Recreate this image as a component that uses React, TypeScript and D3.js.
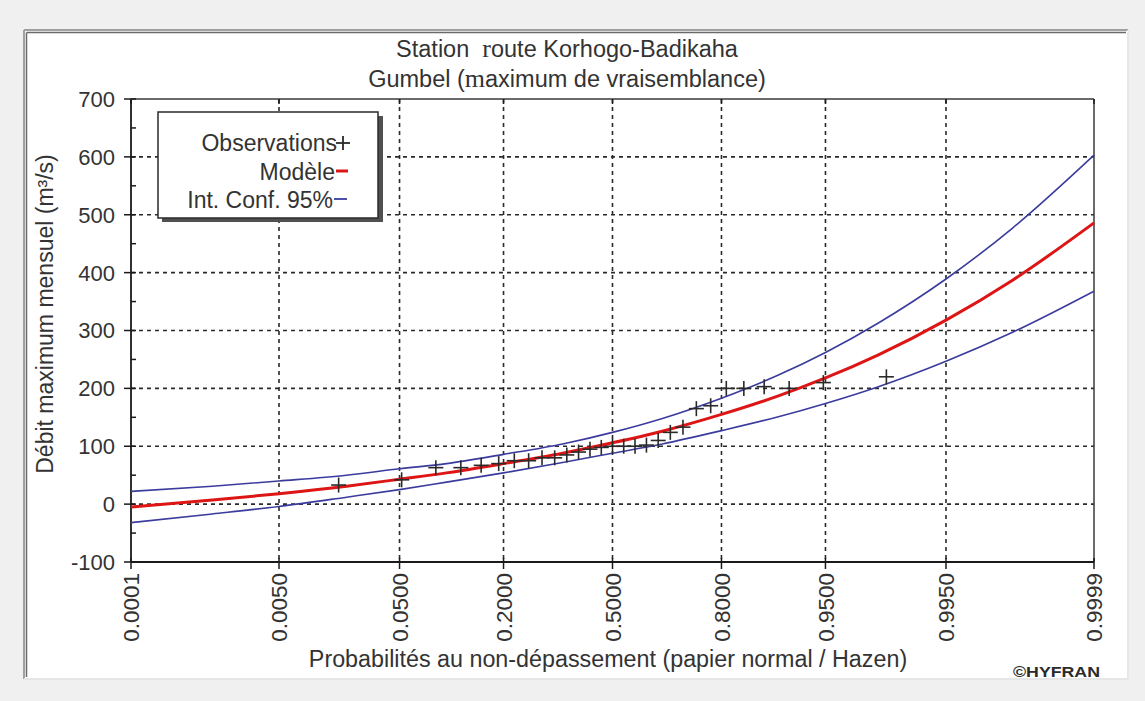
import React from "react";
import * as d3 from "d3";

// ---- Data ----
const xTickProbs = [0.0001, 0.005, 0.05, 0.2, 0.5, 0.8, 0.95, 0.995, 0.9999];
const xTickLabels = ["0.0001", "0.0050", "0.0500", "0.2000", "0.5000", "0.8000", "0.9500", "0.9950", "0.9999"];
const yTicks = [-100, 0, 100, 200, 300, 400, 500, 600, 700];
const yMinorTicks = [-50, 50, 150, 250, 350, 450, 550, 650];

// model curve & 95% confidence band, read at these probabilities
const curveProbs = [0.0001, 0.001, 0.005, 0.02, 0.05, 0.1, 0.2, 0.35, 0.5, 0.65, 0.8, 0.9, 0.95, 0.98, 0.995, 0.999, 0.9999];
const modelQ = [-5, 7, 18, 31, 43, 54, 70, 88, 106, 126, 155, 187, 218, 258, 318, 387, 486];
const upperQ = [22, 31, 40, 50, 61, 70, 86, 104, 124, 148, 183, 223, 262, 313, 389, 477, 603];
const lowerQ = [-32, -17, -4, 12, 25, 38, 54, 72, 88, 104, 127, 151, 174, 203, 247, 297, 368];

// observations (Hazen plotting positions) and values
const obsP = [0.0172, 0.0517, 0.0862, 0.1207, 0.1552, 0.1897, 0.2241, 0.2586, 0.2931, 0.3276, 0.3621, 0.3966, 0.431, 0.4655, 0.5, 0.5345, 0.569, 0.6034, 0.6379, 0.6724, 0.7069, 0.7414, 0.7759, 0.8103, 0.8448, 0.8793, 0.9138, 0.9483, 0.9828];
const obsQ = [33, 42, 63, 63, 67, 70, 75, 75, 80, 80, 85, 90, 95, 98, 100, 100, 100, 102, 110, 124, 133, 165, 170, 200, 200, 203, 200, 210, 220];

const legendLabels = ["Observations", "Modèle", "Int. Conf. 95%"];

// inverse standard normal CDF (Acklam)
function probit(p: number): number {
  const a = [-3.969683028665376e1, 2.209460984245205e2, -2.759285104469687e2, 1.38357751867269e2, -3.066479806614716e1, 2.506628277459239];
  const b = [-5.447609879822406e1, 1.615858368580409e2, -1.556989798598866e2, 6.680131188771972e1, -1.328068155288572e1];
  const c = [-7.784894002430293e-3, -3.223964580411365e-1, -2.400758277161838, -2.549732539343734, 4.374664141464968, 2.938163982698783];
  const d = [7.784695709041462e-3, 3.224671290700398e-1, 2.445134137142996, 3.754408661907416];
  const plow = 0.02425, phigh = 1 - plow;
  let q: number, r: number;
  if (p < plow) {
    q = Math.sqrt(-2 * Math.log(p));
    return (((((c[0] * q + c[1]) * q + c[2]) * q + c[3]) * q + c[4]) * q + c[5]) / ((((d[0] * q + d[1]) * q + d[2]) * q + d[3]) * q + 1);
  }
  if (p <= phigh) {
    q = p - 0.5;
    r = q * q;
    return ((((((a[0] * r + a[1]) * r + a[2]) * r + a[3]) * r + a[4]) * r + a[5]) * q) / (((((b[0] * r + b[1]) * r + b[2]) * r + b[3]) * r + b[4]) * r + 1);
  }
  q = Math.sqrt(-2 * Math.log(1 - p));
  return -(((((c[0] * q + c[1]) * q + c[2]) * q + c[3]) * q + c[4]) * q + c[5]) / ((((d[0] * q + d[1]) * q + d[2]) * q + d[3]) * q + 1);
}

const FONT = "'Liberation Sans', Arial, sans-serif";
const TXT = "#333333";

export default function App() {
  const W = 1145, H = 701;
  const left = 131, right = 1094, top = 99, bottom = 562;
  const x = d3.scaleLinear().domain([probit(0.0001), probit(0.9999)]).range([left, right]);
  const px = (p: number) => x(probit(p));
  const y = d3.scaleLinear().domain([-100, 700]).range([bottom, top]);

  const line = d3
    .line<[number, number]>()
    .x((d) => px(d[0]))
    .y((d) => y(d[1]))
    .curve(d3.curveMonotoneX);

  const mk = (vals: number[]) => curveProbs.map((p, i) => [p, vals[i]] as [number, number]);

  const gridColor = "#2a2a2a";

  return (
    <svg width={W} height={H} style={{ position: "absolute", left: 0, top: 0, background: "#f0f0f0" }} fontFamily={FONT}>
      {/* panel */}
      <rect x={24} y={30} width={1104} height={649} fill="#ffffff" />
      <line x1={24} y1={30} x2={1128} y2={30} stroke="#a0a0a0" strokeWidth={2} />
      <line x1={24} y1={30} x2={24} y2={679} stroke="#a0a0a0" strokeWidth={2} />
      <line x1={26.5} y1={32.5} x2={1126} y2={32.5} stroke="#6a6a6a" strokeWidth={1.5} />
      <line x1={26.5} y1={32.5} x2={26.5} y2={677} stroke="#6a6a6a" strokeWidth={1.5} />
      <line x1={1128} y1={30} x2={1128} y2={679} stroke="#e6e6e6" strokeWidth={2} />
      <line x1={24} y1={679} x2={1128} y2={679} stroke="#e6e6e6" strokeWidth={2} />

      {/* titles */}
      <text x={567} y={57} textAnchor="middle" fontSize={23.5} fill={TXT}>
        {"Station\u00a0 "}
        <tspan fontFamily="'Liberation Serif', 'Times New Roman', serif" fontSize={26}>r</tspan>
        oute Korhogo-Badikaha
      </text>
      <text x={567} y={87} textAnchor="middle" fontSize={23.5} fill={TXT}>
        Gumbel (
        <tspan fontFamily="'Liberation Serif', 'Times New Roman', serif" fontSize={26}>m</tspan>
        aximum de vraisemblance)
      </text>

      {/* grid */}
      {yTicks.slice(1, -1).map((t) => (
        <line key={"gy" + t} x1={left} x2={right} y1={y(t)} y2={y(t)} stroke={gridColor} strokeWidth={1.6} strokeDasharray="4,4" />
      ))}
      {xTickProbs.slice(1, -1).map((p) => (
        <line key={"gx" + p} x1={px(p)} x2={px(p)} y1={top} y2={bottom} stroke={gridColor} strokeWidth={1.6} strokeDasharray="4,4" />
      ))}

      {/* frame */}
      <line x1={left} x2={right} y1={top} y2={top} stroke="#3a3a3a" strokeWidth={1.5} />
      <line x1={right} x2={right} y1={top} y2={bottom} stroke="#3a3a3a" strokeWidth={1.5} />
      <line x1={left} x2={left} y1={top} y2={bottom} stroke="#1a1a1a" strokeWidth={1.8} />
      <line x1={left} x2={right} y1={bottom} y2={bottom} stroke="#1a1a1a" strokeWidth={1.8} />

      {/* y ticks */}
      {yTicks.map((t) => (
        <g key={"yt" + t}>
          <line x1={left - 7} x2={left + 5} y1={y(t)} y2={y(t)} stroke="#1a1a1a" strokeWidth={1.5} />
          <text x={115} y={y(t)} dy="0.36em" textAnchor="end" fontSize={22} fill={TXT}>
            {t}
          </text>
        </g>
      ))}
      {yMinorTicks.map((t) => (
        <line key={"ym" + t} x1={left} x2={left + 5} y1={y(t)} y2={y(t)} stroke="#1a1a1a" strokeWidth={1.5} />
      ))}

      {/* x ticks */}
      {xTickProbs.map((p, i) => (
        <g key={"xt" + p}>
          <line x1={px(p)} x2={px(p)} y1={bottom - 4} y2={bottom + 7} stroke="#1a1a1a" strokeWidth={1.5} />
          <line x1={px(p)} x2={px(p)} y1={top} y2={top + 5} stroke="#1a1a1a" strokeWidth={1.5} />
          <text
            transform={`translate(${px(p)},${bottom + 11}) rotate(-90)`}
            textAnchor="end"
            dy="0.36em"
            fontSize={22.5}
            fill={TXT}
          >
            {xTickLabels[i]}
          </text>
        </g>
      ))}

      {/* axis titles */}
      <text x={608} y={667} textAnchor="middle" fontSize={23.3} fill={TXT}>
        Probabilités au non-dépassement (papier normal / Hazen)
      </text>
      <text transform={`translate(53,314) rotate(-90)`} textAnchor="middle" fontSize={23} fill={TXT}>
        Débit maximum mensuel (m³/s)
      </text>
      <text x={1100} y={677} textAnchor="end" fontSize={15} fontWeight="bold" fill="#2a2a2a" textLength={87} lengthAdjust="spacingAndGlyphs">
        ©HYFRAN
      </text>

      {/* curves */}
      <path d={line(mk(upperQ)) || ""} fill="none" stroke="#3b3b9e" strokeWidth={1.6} />
      <path d={line(mk(lowerQ)) || ""} fill="none" stroke="#3b3b9e" strokeWidth={1.6} />
      <path d={line(mk(modelQ)) || ""} fill="none" stroke="#dd1515" strokeWidth={3} />

      {/* observations */}
      {obsP.map((p, i) => {
        const cx = px(p), cy = y(obsQ[i]);
        return (
          <g key={"o" + i} stroke="#2a2a2a" strokeWidth={1.6}>
            <line x1={cx - 7.5} x2={cx + 7.5} y1={cy} y2={cy} />
            <line x1={cx} x2={cx} y1={cy - 7.5} y2={cy + 7.5} />
          </g>
        );
      })}

      {/* legend */}
      <rect x={162} y={116} width={221} height={106} fill="#505050" />
      <rect x={158} y={112} width={220} height={106} fill="#ffffff" stroke="#2a2a2a" strokeWidth={1.5} />
      {legendLabels.map((lab, i) => (
        <text key={lab} x={[337, 335, 333][i]} y={151 + i * 28.5} textAnchor="end" fontSize={23} fill={TXT}>
          {lab}
        </text>
      ))}
      <g stroke="#2a2a2a" strokeWidth={1.8}>
        <line x1={336} x2={350} y1={143} y2={143} />
        <line x1={343} x2={343} y1={136} y2={150} />
      </g>
      <line x1={336} x2={348} y1={171} y2={171} stroke="#dd1515" strokeWidth={3} />
      <line x1={334} x2={347} y1={199} y2={199} stroke="#3b3b9e" strokeWidth={1.8} />
    </svg>
  );
}
